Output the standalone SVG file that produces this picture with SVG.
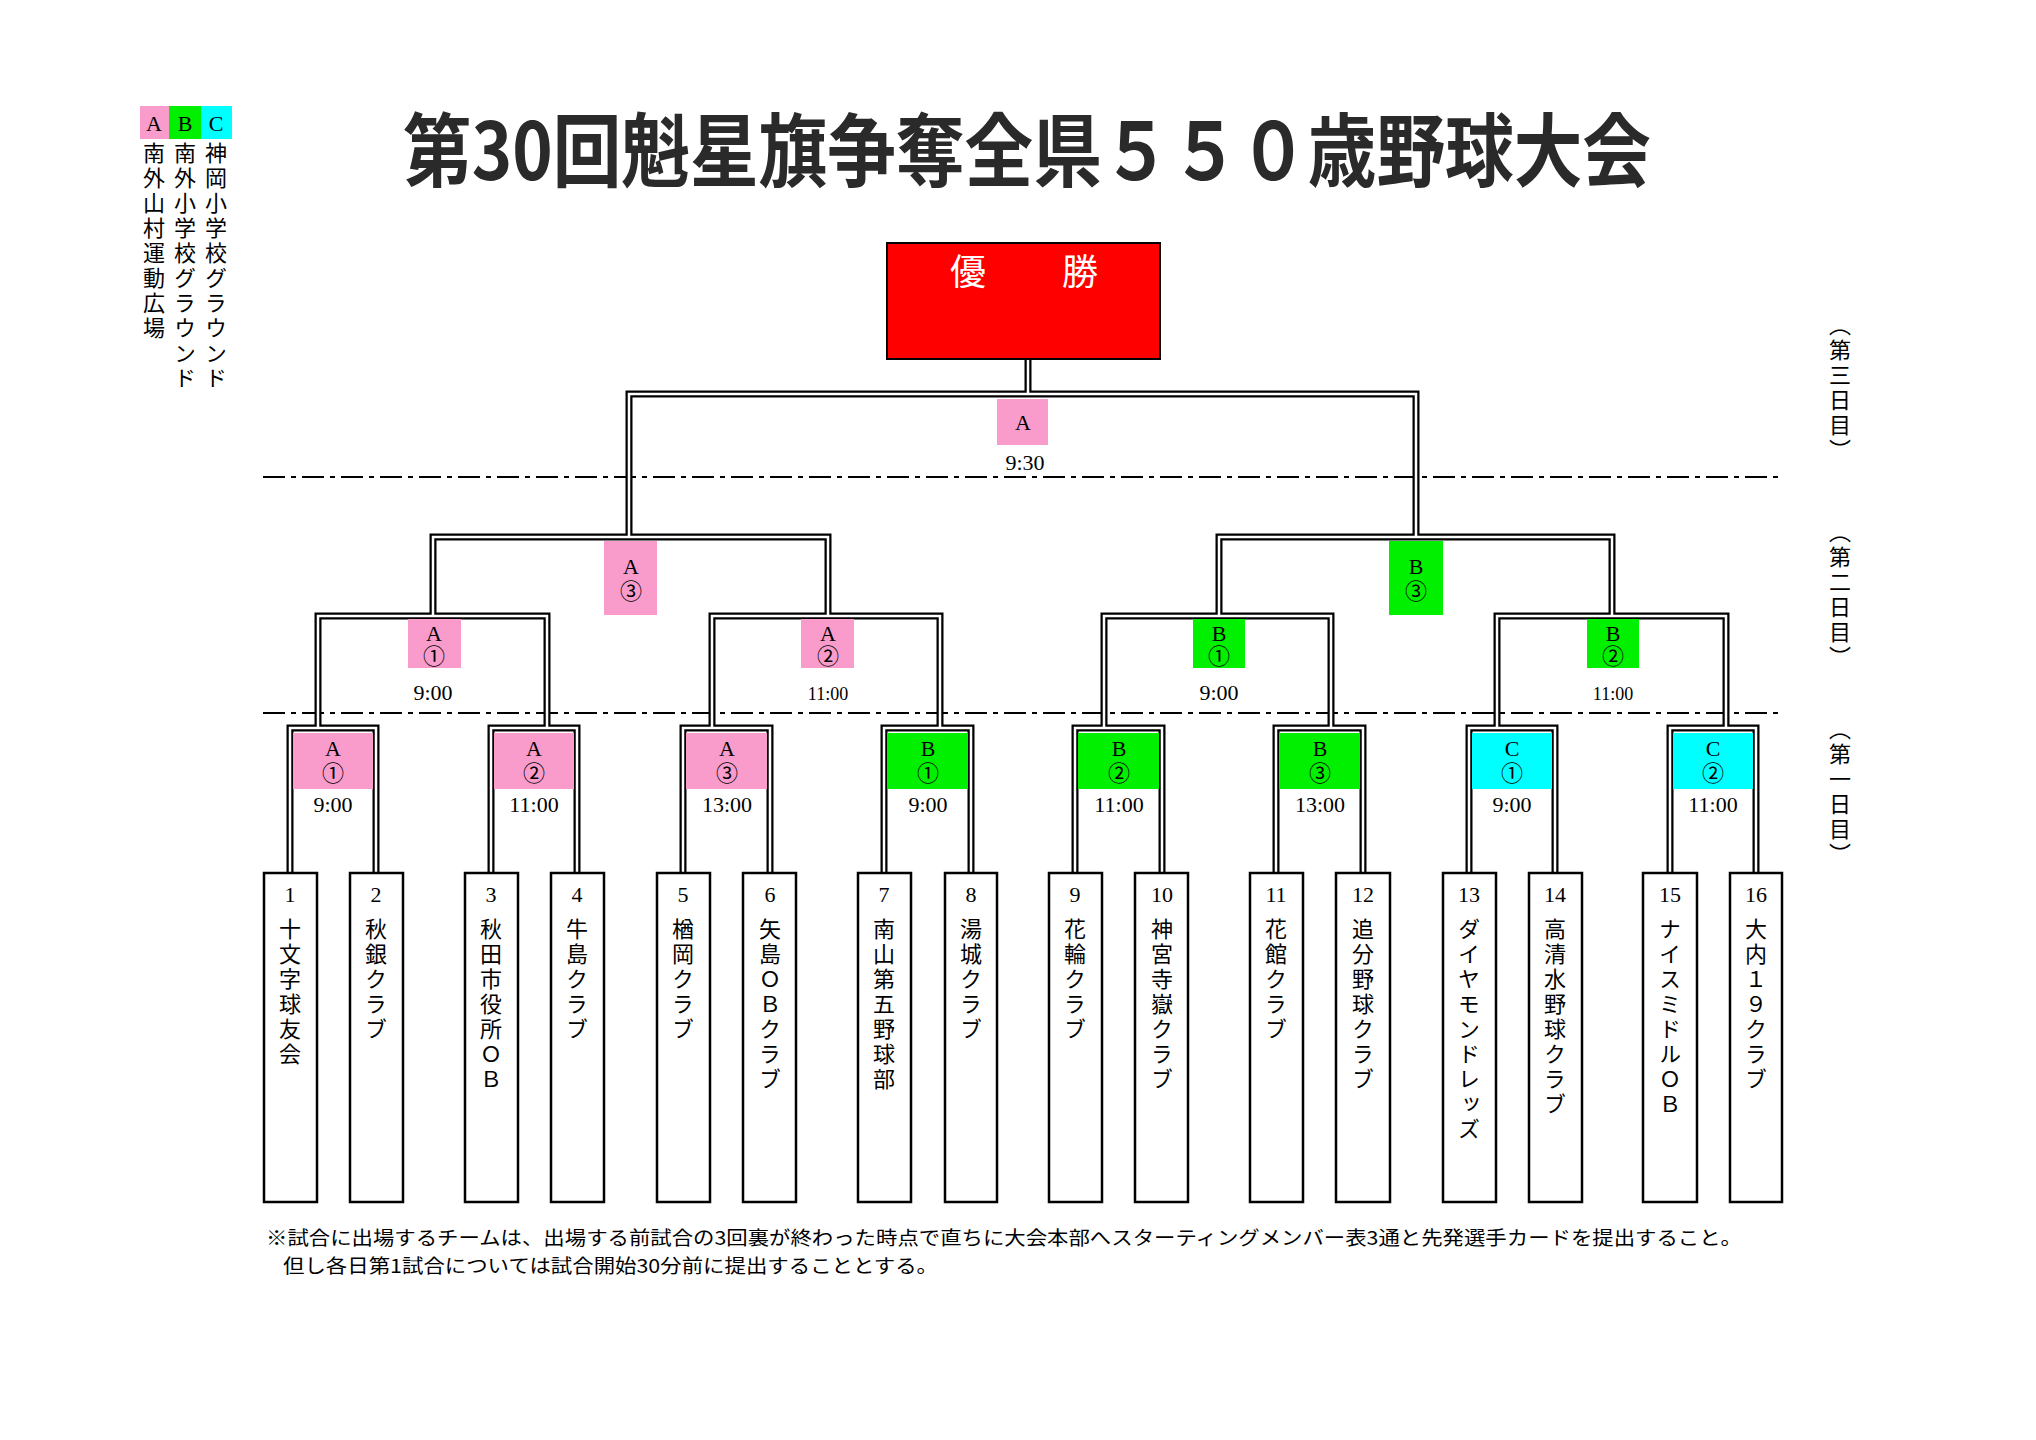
<svg xmlns="http://www.w3.org/2000/svg" width="2036" height="1440" viewBox="0 0 2036 1440">
<style>
.o{fill:none;stroke:#000;stroke-width:7}
.i{fill:none;stroke:#fff;stroke-width:2.5}
.d{stroke:#000;stroke-width:2;stroke-dasharray:22 6 5 6}
.t{font-family:"Liberation Serif","Noto Sans CJK JP",serif;font-size:22px;fill:#000;text-anchor:middle}
.v{font-family:"Noto Sans CJK JP",sans-serif;font-size:22px;fill:#000;writing-mode:vertical-rl;letter-spacing:3px}
.team{fill:#fff;stroke:#000;stroke-width:2.5}
.pa{fill:#f99ccc}.gb{fill:#00f000}.cc{fill:#00ffff}
</style>
<rect width="2036" height="1440" fill="#fff"/>
<g id="legend">
<rect class="pa" x="140" y="106" width="29" height="33"/><rect class="gb" x="169" y="106" width="32" height="33"/><rect class="cc" x="201" y="106" width="31" height="33"/>
<text class="t" x="154" y="131">A</text><text class="t" x="185" y="131">B</text><text class="t" x="216" y="131">C</text>
<text class="v" x="154" y="142">南外山村運動広場</text>
<text class="v" x="185" y="142">南外小学校グラウンド</text>
<text class="v" x="216" y="142">神岡小学校グラウンド</text>
</g>
<text id="title" x="403" y="180" textLength="1248" lengthAdjust="spacingAndGlyphs" style="font-family:'Noto Sans CJK JP',sans-serif;font-weight:bold;font-size:80px;fill:#2a2a2a">第30回魁星旗争奪全県５５０歳野球大会</text>
<g id="days">
<text class="v" x="1840" y="314">（第三日目）</text>
<text class="v" x="1840" y="521">（第二日目）</text>
<text class="v" x="1840" y="718">（第一日目）</text>
</g>
<line class="d" x1="263" y1="477" x2="1783" y2="477"/>
<line class="d" x1="263" y1="713" x2="1783" y2="713"/>
<g id="connectors">
<path class="o" d="M1028,359V394M629,537V394H1416V537M433,616V537H828V616M1219,616V537H1612V616M318,728V616H547V728M712,728V616H940V728M1104,728V616H1331V728M1497,728V616H1726V728M290,873V728H376V873M491,873V728H577V873M683,873V728H770V873M884,873V728H971V873M1075,873V728H1162V873M1276,873V728H1363V873M1469,873V728H1555V873M1670,873V728H1756V873"/>
<path class="i" d="M1028,359V394M629,537V394H1416V537M433,616V537H828V616M1219,616V537H1612V616M318,728V616H547V728M712,728V616H940V728M1104,728V616H1331V728M1497,728V616H1726V728M290,873V728H376V873M491,873V728H577V873M683,873V728H770V873M884,873V728H971V873M1075,873V728H1162V873M1276,873V728H1363V873M1469,873V728H1555V873M1670,873V728H1756V873"/>
</g>
<g id="champion"><rect x="887" y="243" width="273" height="116" fill="#ff0000" stroke="#000" stroke-width="2"/>
<text class="t" x="968" y="285" style="fill:#fff;font-size:36px;font-family:'Noto Sans CJK JP',sans-serif">優</text>
<text class="t" x="1080" y="285" style="fill:#fff;font-size:36px;font-family:'Noto Sans CJK JP',sans-serif">勝</text></g>
<g id="final"><rect class="pa" x="997" y="399" width="51" height="46"/><text class="t" x="1023" y="430">A</text><text class="t" x="1025" y="470">9:30</text></g>
<g id="sfA"><rect class="pa" x="604" y="541" width="53" height="74"/><text class="t" x="631" y="574">A</text><text class="t" x="631" y="599">③</text></g>
<g id="sfB"><rect class="gb" x="1389" y="541" width="54" height="74"/><text class="t" x="1416" y="574">B</text><text class="t" x="1416" y="599">③</text></g>
<g id="qfA1"><rect class="pa" x="408" y="619" width="53" height="49"/><text class="t" x="434" y="641">A</text><text class="t" x="434" y="664">①</text><text class="t" x="433" y="700">9:00</text></g>
<g id="qfA2"><rect class="pa" x="801" y="619" width="53" height="49"/><text class="t" x="828" y="641">A</text><text class="t" x="828" y="664">②</text><text class="t" x="828" y="700" style="font-size:18px">11:00</text></g>
<g id="qfB1"><rect class="gb" x="1193" y="619" width="52" height="49"/><text class="t" x="1219" y="641">B</text><text class="t" x="1219" y="664">①</text><text class="t" x="1219" y="700">9:00</text></g>
<g id="qfB2"><rect class="gb" x="1587" y="619" width="52" height="49"/><text class="t" x="1613" y="641">B</text><text class="t" x="1613" y="664">②</text><text class="t" x="1613" y="700" style="font-size:18px">11:00</text></g>
<g id="r1A1"><rect class="pa" x="293" y="733" width="80" height="56"/><text class="t" x="333" y="756">A</text><text class="t" x="333" y="781">①</text><text class="t" x="333" y="812">9:00</text></g>
<g id="r1A2"><rect class="pa" x="494" y="733" width="80" height="56"/><text class="t" x="534" y="756">A</text><text class="t" x="534" y="781">②</text><text class="t" x="534" y="812">11:00</text></g>
<g id="r1A3"><rect class="pa" x="686" y="733" width="81" height="56"/><text class="t" x="727" y="756">A</text><text class="t" x="727" y="781">③</text><text class="t" x="727" y="812">13:00</text></g>
<g id="r1B1"><rect class="gb" x="887" y="733" width="81" height="56"/><text class="t" x="928" y="756">B</text><text class="t" x="928" y="781">①</text><text class="t" x="928" y="812">9:00</text></g>
<g id="r1B2"><rect class="gb" x="1078" y="733" width="81" height="56"/><text class="t" x="1119" y="756">B</text><text class="t" x="1119" y="781">②</text><text class="t" x="1119" y="812">11:00</text></g>
<g id="r1B3"><rect class="gb" x="1279" y="733" width="81" height="56"/><text class="t" x="1320" y="756">B</text><text class="t" x="1320" y="781">③</text><text class="t" x="1320" y="812">13:00</text></g>
<g id="r1C1"><rect class="cc" x="1472" y="733" width="80" height="56"/><text class="t" x="1512" y="756">C</text><text class="t" x="1512" y="781">①</text><text class="t" x="1512" y="812">9:00</text></g>
<g id="r1C2"><rect class="cc" x="1673" y="733" width="80" height="56"/><text class="t" x="1713" y="756">C</text><text class="t" x="1713" y="781">②</text><text class="t" x="1713" y="812">11:00</text></g>
<g id="teams">
<g id="t1"><rect class="team" x="264" y="873" width="53" height="329"/><text class="t" x="290" y="902">1</text><text class="v" x="290" y="918">十文字球友会</text></g>
<g id="t2"><rect class="team" x="350" y="873" width="53" height="329"/><text class="t" x="376" y="902">2</text><text class="v" x="376" y="918">秋銀クラブ</text></g>
<g id="t3"><rect class="team" x="465" y="873" width="53" height="329"/><text class="t" x="491" y="902">3</text><text class="v" x="491" y="918">秋田市役所ＯＢ</text></g>
<g id="t4"><rect class="team" x="551" y="873" width="53" height="329"/><text class="t" x="577" y="902">4</text><text class="v" x="577" y="918">牛島クラブ</text></g>
<g id="t5"><rect class="team" x="657" y="873" width="53" height="329"/><text class="t" x="683" y="902">5</text><text class="v" x="683" y="918">楢岡クラブ</text></g>
<g id="t6"><rect class="team" x="743" y="873" width="53" height="329"/><text class="t" x="770" y="902">6</text><text class="v" x="770" y="918">矢島ＯＢクラブ</text></g>
<g id="t7"><rect class="team" x="858" y="873" width="53" height="329"/><text class="t" x="884" y="902">7</text><text class="v" x="884" y="918">南山第五野球部</text></g>
<g id="t8"><rect class="team" x="945" y="873" width="52" height="329"/><text class="t" x="971" y="902">8</text><text class="v" x="971" y="918">湯城クラブ</text></g>
<g id="t9"><rect class="team" x="1049" y="873" width="53" height="329"/><text class="t" x="1075" y="902">9</text><text class="v" x="1075" y="918">花輪クラブ</text></g>
<g id="t10"><rect class="team" x="1135" y="873" width="53" height="329"/><text class="t" x="1162" y="902">10</text><text class="v" x="1162" y="918">神宮寺嶽クラブ</text></g>
<g id="t11"><rect class="team" x="1250" y="873" width="53" height="329"/><text class="t" x="1276" y="902">11</text><text class="v" x="1276" y="918">花館クラブ</text></g>
<g id="t12"><rect class="team" x="1336" y="873" width="54" height="329"/><text class="t" x="1363" y="902">12</text><text class="v" x="1363" y="918">追分野球クラブ</text></g>
<g id="t13"><rect class="team" x="1443" y="873" width="53" height="329"/><text class="t" x="1469" y="902">13</text><text class="v" x="1469" y="918">ダイヤモンドレッズ</text></g>
<g id="t14"><rect class="team" x="1529" y="873" width="53" height="329"/><text class="t" x="1555" y="902">14</text><text class="v" x="1555" y="918">高清水野球クラブ</text></g>
<g id="t15"><rect class="team" x="1643" y="873" width="54" height="329"/><text class="t" x="1670" y="902">15</text><text class="v" x="1670" y="918">ナイスミドルＯＢ</text></g>
<g id="t16"><rect class="team" x="1730" y="873" width="52" height="329"/><text class="t" x="1756" y="902">16</text><text class="v" x="1756" y="918">大内１９クラブ</text></g>
</g>
<g id="note" style="font-family:'Noto Sans CJK JP',sans-serif;font-size:19px;fill:#000">
<text x="266" y="1245" textLength="1476" lengthAdjust="spacingAndGlyphs">※試合に出場するチームは、出場する前試合の3回裏が終わった時点で直ちに大会本部へスターティングメンバー表3通と先発選手カードを提出すること。</text>
<text x="283" y="1273" textLength="655" lengthAdjust="spacingAndGlyphs">但し各日第1試合については試合開始30分前に提出することとする。</text>
</g>
</svg>
